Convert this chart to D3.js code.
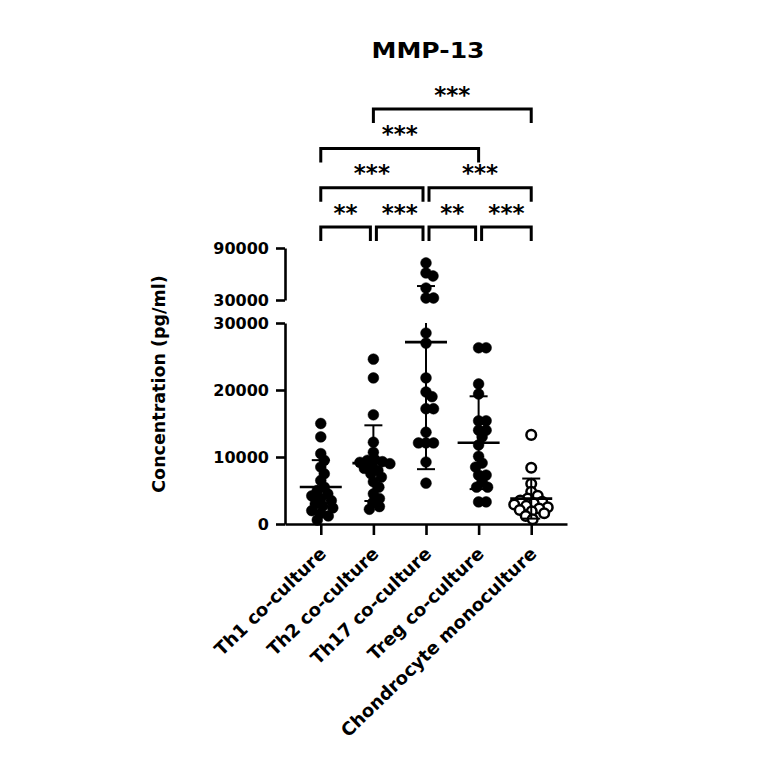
<!DOCTYPE html>
<html>
<head>
<meta charset="utf-8">
<script src="https://cdn.jsdelivr.net/npm/d3@7"></script>
<style>
  body { margin: 0; background: #fff; }
</style>
</head>
<body>
<div id="chart"></div>
<script>
// data (pg/ml)
const categories = ['Th1 co-culture', 'Th2 co-culture', 'Th17 co-culture', 'Treg co-culture', 'Chondrocyte monoculture'];

const th1Values = [15000, 13000, 10500, 9500, 8500, 7500, 6500, 5500, 5000, 4500, 4200, 3800, 3500, 3000, 2700, 2400, 2000, 1600, 1200, 600];
const th2Values = [24600, 21800, 16300, 12200, 10700, 9600, 9300, 9500, 9200, 9000, 8700, 8300, 8000, 7500, 7000, 6300, 5500, 4500, 3800, 3200, 2600, 2200];
const th17Values = [72700, 61200, 57700, 43800, 32300, 32300, 28500, 27000, 21800, 19700, 19000, 17200, 17200, 13700, 12100, 12100, 12100, 9250, 6100];
const tregValues = [26300, 26300, 20900, 19400, 15400, 15400, 14000, 14000, 13000, 11800, 10100, 9100, 8500, 7300, 7300, 6300, 5500, 5500, 3300, 3300];
const chondroValues = [13300, 8400, 6000, 4800, 4200, 3800, 3500, 3300, 3100, 2900, 2700, 2500, 2300, 2100, 1900, 1600, 1200, 700];

const seriesValues = [th1Values, th2Values, th17Values, tregValues, chondroValues];
const openMarker = [false, false, false, false, true];

const yTicksLow = [0, 10000, 20000, 30000];
const yTicksHigh = [30000, 90000];

// significance brackets: [from, to] category index, label, stacking level
const compPairs = [[0, 1], [1, 2], [2, 3], [3, 4], [0, 2], [2, 4], [0, 3], [1, 4]];
const compLabels = ['**', '***', '**', '***', '***', '***', '***', '***'];
const compLevels = [0, 0, 0, 0, 1, 1, 2, 3];

const title = 'MMP-13';
const yLabel = 'Concentration (pg/ml)';

// layout
const width = 764;
const height = 764;
const font = '"DejaVu Sans", sans-serif';
const dotR = 5.4;

const svg = d3.select('#chart')
  .append('svg')
  .attr('width', width)
  .attr('height', height)
  .style('font-family', font);

const x = d3.scalePoint()
  .domain(categories)
  .range([285, 567])
  .padding(0.68);

// broken y axis: two linear pieces
const yLow = d3.scaleLinear().domain([0, 30000]).range([524, 323]);
const yHigh = d3.scaleLinear().domain([30000, 90000]).range([300, 248]);
const y = (v) => (v <= 30000 ? yLow(v) : yHigh(v));

// axes
const styleAxis = (g) => {
  g.selectAll('.domain').attr('stroke', '#000').attr('stroke-width', 2.6);
  g.selectAll('.tick line').attr('stroke', '#000').attr('stroke-width', 2.6);
  g.selectAll('.tick text')
    .attr('fill', '#000')
    .style('font-family', font)
    .style('font-weight', 'bold');
};

svg.append('g')
  .attr('class', 'axis axis-y-low')
  .attr('transform', 'translate(285,0)')
  .call(d3.axisLeft(yLow).tickValues(yTicksLow).tickSize(9).tickSizeOuter(0).tickPadding(7).tickFormat(d3.format('d')))
  .call(styleAxis)
  .selectAll('.tick text')
  .style('font-size', '16px');

svg.append('g')
  .attr('class', 'axis axis-y-high')
  .attr('transform', 'translate(285,0)')
  .call(d3.axisLeft(yHigh).tickValues(yTicksHigh).tickSize(9).tickSizeOuter(0).tickPadding(7).tickFormat(d3.format('d')))
  .call(styleAxis)
  .selectAll('.tick text')
  .style('font-size', '16px');

svg.append('g')
  .attr('class', 'axis axis-x')
  .attr('transform', 'translate(0,524)')
  .call(d3.axisBottom(x).tickSize(11).tickSizeOuter(0))
  .call(styleAxis)
  .selectAll('.tick text')
  .attr('x', 0)
  .attr('y', 0)
  .attr('dy', 0)
  .attr('text-anchor', 'end')
  .attr('transform', 'translate(6,31) rotate(-44)')
  .style('font-size', '18px');

// y label and title
svg.append('text')
  .attr('transform', 'translate(165,384) rotate(-90)')
  .attr('text-anchor', 'middle')
  .style('font-size', '17.5px')
  .style('font-weight', 'bold')
  .text(yLabel);

svg.append('text')
  .attr('x', 428)
  .attr('y', 58)
  .attr('text-anchor', 'middle')
  .attr('textLength', 113)
  .attr('lengthAdjust', 'spacingAndGlyphs')
  .style('font-size', '22px')
  .style('font-weight', 'bold')
  .text(title);

// compact beeswarm: spread dots sideways a little, let them overlap when crowded
function swarm(values, cx) {
  const minDist = 7.5;
  const maxOff = 17;
  const cands = d3.range(-maxOff, maxOff + 0.01, 0.5)
    .sort((a, b) => d3.ascending(Math.abs(a), Math.abs(b)) || d3.descending(a, b));
  const placed = [];
  values
    .map((v) => ({ v, py: y(v) }))
    .sort((a, b) => d3.ascending(a.py, b.py))
    .forEach((d) => {
      let best = 0;
      let bestGap = -Infinity;
      for (const cand of cands) {
        const gap = d3.min(placed, (p) => Math.hypot(p.px - (cx + cand), p.py - d.py)) ?? Infinity;
        if (gap >= minDist) { best = cand; break; }
        if (gap > bestGap) { bestGap = gap; best = cand; }
      }
      placed.push({ ...d, px: cx + best });
    });
  return placed;
}

const gPoints = svg.append('g').attr('class', 'g-points');

seriesValues.forEach((vals, i) => {
  const cx = x(categories[i]);
  const open = openMarker[i];
  gPoints.append('g')
    .selectAll('circle')
    .data(swarm(vals, cx))
    .join('circle')
    .attr('cx', (d) => d.px)
    .attr('cy', (d) => d.py)
    .attr('r', open ? dotR - 0.6 : dotR)
    .attr('fill', open ? '#fff' : '#000')
    .attr('stroke', '#000')
    .attr('stroke-width', open ? 2.5 : 0.5);
});

// mean +/- SD
const gStats = svg.append('g').attr('class', 'g-stats').attr('stroke', '#000');

seriesValues.forEach((vals, i) => {
  const cx = x(categories[i]);
  const m = d3.mean(vals);
  const sd = d3.deviation(vals);
  const lo = m - sd;
  const hi = m + sd;

  const segs = [[y(lo), yLow(Math.min(hi, 30000))]];
  if (hi > 30000) segs.push([yHigh(30000), yHigh(hi)]);

  gStats.selectAll(null)
    .data(segs)
    .join('line')
    .attr('x1', cx)
    .attr('x2', cx)
    .attr('y1', (d) => d[0])
    .attr('y2', (d) => d[1])
    .attr('stroke-width', 2);

  gStats.selectAll(null)
    .data([lo, hi])
    .join('line')
    .attr('x1', cx - 9)
    .attr('x2', cx + 9)
    .attr('y1', (d) => y(d))
    .attr('y2', (d) => y(d))
    .attr('stroke-width', 2);

  gStats.append('line')
    .attr('x1', cx - 21)
    .attr('x2', cx + 21)
    .attr('y1', y(m))
    .attr('y2', y(m))
    .attr('stroke-width', 2.6);
});

// significance brackets
const gBrackets = svg.append('g').attr('class', 'g-brackets');
const starSize = 23;

compPairs.forEach(([a, b], i) => {
  const level = compLevels[i];
  const top = 227 - level * 39.3;
  const leg = 14;
  const sharedLeft = compPairs.some(([, b2], j) => j !== i && compLevels[j] === level && b2 === a);
  const sharedRight = compPairs.some(([a2], j) => j !== i && compLevels[j] === level && a2 === b);
  const xl = x(categories[a]) + (sharedLeft ? 3 : 0);
  const xr = x(categories[b]) - (sharedRight ? 3 : 0);

  gBrackets.append('path')
    .attr('fill', 'none')
    .attr('stroke', '#000')
    .attr('stroke-width', 3)
    .attr('d', `M${xl},${top + leg} V${top} H${xr} V${top + leg}`);

  gBrackets.append('text')
    .attr('x', (xl + xr) / 2)
    .attr('y', top - 6.5)
    .attr('text-anchor', 'middle')
    .style('font-size', `${starSize}px`)
    .style('font-weight', 'bold')
    .text(compLabels[i]);
});
</script>
</body>
</html>
